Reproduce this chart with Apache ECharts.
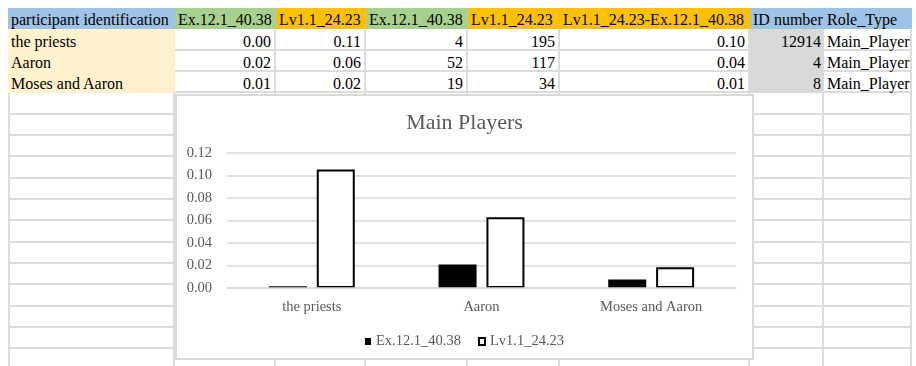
<!DOCTYPE html>
<html>
<head>
<meta charset="utf-8">
<script src="https://cdn.jsdelivr.net/npm/echarts@6/dist/echarts.min.js"></script>
<style>
	html, body { margin: 0; padding: 0; background: #fff; }
	body { width: 916px; height: 366px; position: relative; overflow: hidden; font-family: 'Liberation Serif', 'Times New Roman', serif; }
	.cell { position: absolute; box-sizing: border-box; font-size: 16px; color: #000; white-space: nowrap; overflow: visible; padding: 0 3px; }
	#chartBox { position: absolute; left: 175px; top: 94px; width: 579px; height: 266px; box-sizing: border-box; border: 2px solid #d9d9d9; background: #fff; z-index: 10; }
	#chart { width: 575px; height: 262px; }
</style>
</head>
<body>
<div id="sheet"></div>
<div id="chartBox"><div id="chart"></div></div>
<script>
// sheet data
var headers = ['participant identification', 'Ex.12.1_40.38', 'Lv1.1_24.23', 'Ex.12.1_40.38', 'Lv1.1_24.23', 'Lv1.1_24.23-Ex.12.1_40.38', 'ID number', 'Role_Type'];
var participants = ['the priests', 'Aaron', 'Moses and Aaron'];
var exRatio = [0.0016, 0.021, 0.0076];
var lvRatio = [0.1054, 0.063, 0.0184];
var exCount = [4, 52, 19];
var lvCount = [195, 117, 34];
var idNumber = [12914, 4, 8];
var roleType = ['Main_Player', 'Main_Player', 'Main_Player'];

// chart labels
var seriesNames = ['Ex.12.1_40.38', 'Lv1.1_24.23'];
var chartTitle = 'Main Players';

// layout of the sheet
var colWidths = [167, 101, 90, 102, 92, 190, 74, 88];
var headFill = ['#9dc3e6', '#a9d18e', '#ffc000', '#a9d18e', '#ffc000', '#ffc000', '#9dc3e6', '#9dc3e6'];
var bodyFill = ['#fff2cc', null, null, null, null, null, '#d9d9d9', null];
var rightAlign = [false, true, true, true, true, true, true, false];
var rowCount = 17;

function buildSheet() {
	var sheet = document.getElementById('sheet');
	var rowY = function (i) { return Math.round(8 + i * 21.33); };

	var rows = [headers];
	for (var r = 0; r < participants.length; r++) {
		rows.push([
			participants[r],
			exRatio[r].toFixed(2),
			lvRatio[r].toFixed(2),
			exCount[r],
			lvCount[r],
			(lvRatio[r] - exRatio[r]).toFixed(2),
			idNumber[r],
			roleType[r]
		]);
	}

	for (var i = 0; i < rowCount; i++) {
		var y0 = rowY(i), h = rowY(i + 1) - y0;
		var x = 8;
		for (var c = 0; c < colWidths.length; c++) {
			var d = document.createElement('div');
			d.className = 'cell';
			d.style.left = x + 'px';
			d.style.top = y0 + 'px';
			d.style.width = colWidths[c] + 'px';
			d.style.height = h + 'px';
			d.style.lineHeight = (h + 3) + 'px';
			var fill = null;
			if (i === 0) fill = headFill[c];
			else if (i <= participants.length) fill = bodyFill[c];
			if (fill) {
				d.style.background = fill;
			} else {
				d.style.borderRight = '2px solid #dcdcdc';
				d.style.borderBottom = '2px solid #dcdcdc';
				if (c === 0) d.style.borderLeft = '2px solid #dcdcdc';
			}
			if (i > 0 && rightAlign[c]) d.style.textAlign = 'right';
			if (rows[i]) d.textContent = rows[i][c];
			sheet.appendChild(d);
			x += colWidths[c];
		}
	}
}
buildSheet();

var myChart = echarts.init(document.getElementById('chart'));
var font = 'Liberation Serif';
var option = {
	animation: false,
	title: {
		text: chartTitle,
		left: 'center',
		top: 11,
		textStyle: { fontFamily: font, fontSize: 22, fontWeight: 'normal', color: '#595959' }
	},
	legend: {
		top: 233,
		left: 'center',
		itemWidth: 6,
		itemHeight: 7,
		itemGap: 17,
		icon: 'rect',
		textStyle: { fontFamily: font, fontSize: 14.5, color: '#595959' },
		data: [
			{ name: seriesNames[0], itemStyle: { color: '#000', borderWidth: 0 } },
			{ name: seriesNames[1], itemStyle: { color: '#fff', borderColor: '#000', borderWidth: 2 } }
		]
	},
	grid: { left: 50, right: 16, top: 57, bottom: 70 },
	xAxis: {
		type: 'category',
		data: participants,
		z: 5,
		axisLine: { lineStyle: { color: '#d9d9d9', width: 1.5 } },
		axisTick: { show: false },
		axisLabel: { margin: 12, fontFamily: font, fontSize: 14.5, color: '#595959' }
	},
	yAxis: {
		type: 'value',
		min: 0,
		max: 0.12,
		interval: 0.02,
		axisLine: { show: false },
		axisTick: { show: false },
		axisLabel: {
			margin: 15,
			fontFamily: font, fontSize: 14.5, color: '#595959',
			formatter: function (v) { return v.toFixed(2); }
		},
		splitLine: { lineStyle: { color: '#d9d9d9', width: 1.5 } }
	},
	series: [
		{
			name: seriesNames[0],
			type: 'bar',
			barWidth: 38,
			barGap: '26%',
			itemStyle: { color: '#000' },
			data: exRatio
		},
		{
			name: seriesNames[1],
			type: 'bar',
			barWidth: 38,
			barGap: '26%',
			itemStyle: { color: '#fff', borderColor: '#000', borderWidth: 2 },
			data: lvRatio
		}
	]
};
myChart.setOption(option);
</script>
</body>
</html>
